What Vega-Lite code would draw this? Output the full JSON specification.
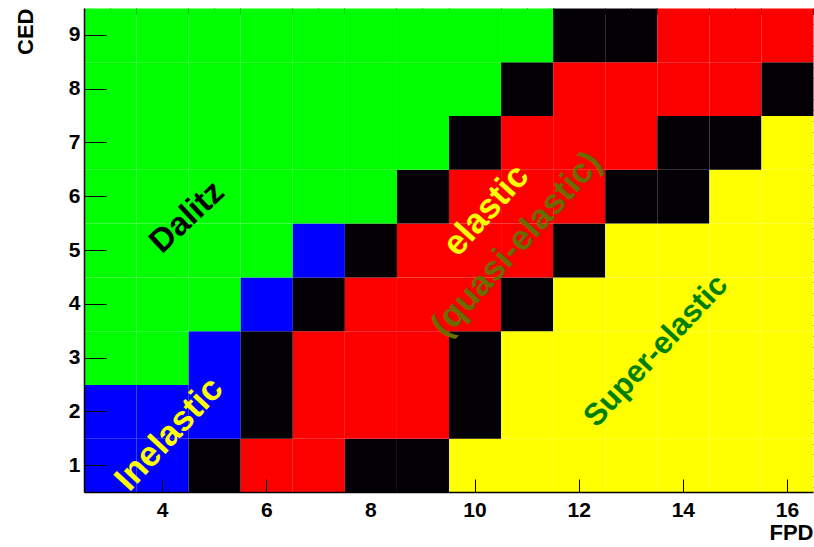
{
  "$schema": "https://vega.github.io/schema/vega-lite/v6.json",
  "width": 729,
  "height": 484,
  "autosize": {"type": "none"},
  "padding": {"left": 84, "top": 8, "right": 1, "bottom": 55},
  "background": "white",
  "config": {
    "view": {"stroke": null},
    "axis": {"grid": false, "domainColor": "black", "tickColor": "black", "labelColor": "black", "titleColor": "black", "labelFont": "Liberation Sans", "titleFont": "Liberation Sans", "labelFontWeight": "bold", "titleFontWeight": "bold"},
    "text": {"font": "Liberation Sans", "fontWeight": "bold", "align": "center", "baseline": "middle"}
  },
  "resolve": {"axis": {"x": "independent", "y": "independent"}, "scale": {"color": "independent"}},
  "layer": [
    {
      "data": {"values": [
        {"FPD":3,"CED":1,"region":"inelastic"},{"FPD":4,"CED":1,"region":"inelastic"},{"FPD":5,"CED":1,"region":"ambiguous"},{"FPD":6,"CED":1,"region":"elastic"},{"FPD":7,"CED":1,"region":"elastic"},{"FPD":8,"CED":1,"region":"ambiguous"},{"FPD":9,"CED":1,"region":"ambiguous"},{"FPD":10,"CED":1,"region":"super"},{"FPD":11,"CED":1,"region":"super"},{"FPD":12,"CED":1,"region":"super"},{"FPD":13,"CED":1,"region":"super"},{"FPD":14,"CED":1,"region":"super"},{"FPD":15,"CED":1,"region":"super"},{"FPD":16,"CED":1,"region":"super"},
        {"FPD":3,"CED":2,"region":"inelastic"},{"FPD":4,"CED":2,"region":"inelastic"},{"FPD":5,"CED":2,"region":"inelastic"},{"FPD":6,"CED":2,"region":"ambiguous"},{"FPD":7,"CED":2,"region":"elastic"},{"FPD":8,"CED":2,"region":"elastic"},{"FPD":9,"CED":2,"region":"elastic"},{"FPD":10,"CED":2,"region":"ambiguous"},{"FPD":11,"CED":2,"region":"super"},{"FPD":12,"CED":2,"region":"super"},{"FPD":13,"CED":2,"region":"super"},{"FPD":14,"CED":2,"region":"super"},{"FPD":15,"CED":2,"region":"super"},{"FPD":16,"CED":2,"region":"super"},
        {"FPD":3,"CED":3,"region":"dalitz"},{"FPD":4,"CED":3,"region":"dalitz"},{"FPD":5,"CED":3,"region":"inelastic"},{"FPD":6,"CED":3,"region":"ambiguous"},{"FPD":7,"CED":3,"region":"elastic"},{"FPD":8,"CED":3,"region":"elastic"},{"FPD":9,"CED":3,"region":"elastic"},{"FPD":10,"CED":3,"region":"ambiguous"},{"FPD":11,"CED":3,"region":"super"},{"FPD":12,"CED":3,"region":"super"},{"FPD":13,"CED":3,"region":"super"},{"FPD":14,"CED":3,"region":"super"},{"FPD":15,"CED":3,"region":"super"},{"FPD":16,"CED":3,"region":"super"},
        {"FPD":3,"CED":4,"region":"dalitz"},{"FPD":4,"CED":4,"region":"dalitz"},{"FPD":5,"CED":4,"region":"dalitz"},{"FPD":6,"CED":4,"region":"inelastic"},{"FPD":7,"CED":4,"region":"ambiguous"},{"FPD":8,"CED":4,"region":"elastic"},{"FPD":9,"CED":4,"region":"elastic"},{"FPD":10,"CED":4,"region":"elastic"},{"FPD":11,"CED":4,"region":"ambiguous"},{"FPD":12,"CED":4,"region":"super"},{"FPD":13,"CED":4,"region":"super"},{"FPD":14,"CED":4,"region":"super"},{"FPD":15,"CED":4,"region":"super"},{"FPD":16,"CED":4,"region":"super"},
        {"FPD":3,"CED":5,"region":"dalitz"},{"FPD":4,"CED":5,"region":"dalitz"},{"FPD":5,"CED":5,"region":"dalitz"},{"FPD":6,"CED":5,"region":"dalitz"},{"FPD":7,"CED":5,"region":"inelastic"},{"FPD":8,"CED":5,"region":"ambiguous"},{"FPD":9,"CED":5,"region":"elastic"},{"FPD":10,"CED":5,"region":"elastic"},{"FPD":11,"CED":5,"region":"elastic"},{"FPD":12,"CED":5,"region":"ambiguous"},{"FPD":13,"CED":5,"region":"super"},{"FPD":14,"CED":5,"region":"super"},{"FPD":15,"CED":5,"region":"super"},{"FPD":16,"CED":5,"region":"super"},
        {"FPD":3,"CED":6,"region":"dalitz"},{"FPD":4,"CED":6,"region":"dalitz"},{"FPD":5,"CED":6,"region":"dalitz"},{"FPD":6,"CED":6,"region":"dalitz"},{"FPD":7,"CED":6,"region":"dalitz"},{"FPD":8,"CED":6,"region":"dalitz"},{"FPD":9,"CED":6,"region":"ambiguous"},{"FPD":10,"CED":6,"region":"elastic"},{"FPD":11,"CED":6,"region":"elastic"},{"FPD":12,"CED":6,"region":"elastic"},{"FPD":13,"CED":6,"region":"ambiguous"},{"FPD":14,"CED":6,"region":"ambiguous"},{"FPD":15,"CED":6,"region":"super"},{"FPD":16,"CED":6,"region":"super"},
        {"FPD":3,"CED":7,"region":"dalitz"},{"FPD":4,"CED":7,"region":"dalitz"},{"FPD":5,"CED":7,"region":"dalitz"},{"FPD":6,"CED":7,"region":"dalitz"},{"FPD":7,"CED":7,"region":"dalitz"},{"FPD":8,"CED":7,"region":"dalitz"},{"FPD":9,"CED":7,"region":"dalitz"},{"FPD":10,"CED":7,"region":"ambiguous"},{"FPD":11,"CED":7,"region":"elastic"},{"FPD":12,"CED":7,"region":"elastic"},{"FPD":13,"CED":7,"region":"elastic"},{"FPD":14,"CED":7,"region":"ambiguous"},{"FPD":15,"CED":7,"region":"ambiguous"},{"FPD":16,"CED":7,"region":"super"},
        {"FPD":3,"CED":8,"region":"dalitz"},{"FPD":4,"CED":8,"region":"dalitz"},{"FPD":5,"CED":8,"region":"dalitz"},{"FPD":6,"CED":8,"region":"dalitz"},{"FPD":7,"CED":8,"region":"dalitz"},{"FPD":8,"CED":8,"region":"dalitz"},{"FPD":9,"CED":8,"region":"dalitz"},{"FPD":10,"CED":8,"region":"dalitz"},{"FPD":11,"CED":8,"region":"ambiguous"},{"FPD":12,"CED":8,"region":"elastic"},{"FPD":13,"CED":8,"region":"elastic"},{"FPD":14,"CED":8,"region":"elastic"},{"FPD":15,"CED":8,"region":"elastic"},{"FPD":16,"CED":8,"region":"ambiguous"},
        {"FPD":3,"CED":9,"region":"dalitz"},{"FPD":4,"CED":9,"region":"dalitz"},{"FPD":5,"CED":9,"region":"dalitz"},{"FPD":6,"CED":9,"region":"dalitz"},{"FPD":7,"CED":9,"region":"dalitz"},{"FPD":8,"CED":9,"region":"dalitz"},{"FPD":9,"CED":9,"region":"dalitz"},{"FPD":10,"CED":9,"region":"dalitz"},{"FPD":11,"CED":9,"region":"dalitz"},{"FPD":12,"CED":9,"region":"ambiguous"},{"FPD":13,"CED":9,"region":"ambiguous"},{"FPD":14,"CED":9,"region":"elastic"},{"FPD":15,"CED":9,"region":"elastic"},{"FPD":16,"CED":9,"region":"elastic"}
      ]},
      "mark": {"type": "rect"},
      "encoding": {
        "x": {"field": "FPD", "type": "quantitative", "bin": {"step": 1, "extent": [2.5, 16.5], "nice": false},
              "scale": {"domain": [2.5, 16.5], "nice": false, "zero": false},
              "axis": {"values": [4, 6, 8, 10, 12, 14, 16], "tickSize": -13, "labelPadding": 20, "labelFontSize": 21, "title": "FPD", "titleFontSize": 22, "titleAnchor": "end", "titlePadding": 2, "domainWidth": 1.5, "labelFlush": false}},
        "y": {"field": "CED", "type": "quantitative", "bin": {"step": 1, "extent": [0.5, 9.5], "nice": false},
              "scale": {"domain": [0.5, 9.5], "nice": false, "zero": false},
              "axis": {"values": [1, 2, 3, 4, 5, 6, 7, 8, 9], "tickSize": -22, "labelPadding": 26, "labelFontSize": 21, "title": "CED", "titleFontSize": 22, "titleAnchor": "end", "titlePadding": 31, "domainWidth": 1.5, "labelFlush": false}},
        "color": {"field": "region", "type": "nominal", "legend": null,
                  "scale": {"domain": ["dalitz", "inelastic", "elastic", "ambiguous", "super"], "range": ["#00ff00", "#0000ff", "#fc0000", "#020004", "#ffff00"]}}
      }
    },
    {
      "data": {"values": [{"label": "Dalitz", "FPD": 4.48, "CED": 5.61}]},
      "mark": {"type": "text", "angle": -43, "fontSize": 33, "color": "black"},
      "encoding": {
        "x": {"field": "FPD", "type": "quantitative",
              "axis": {"values": [3, 3.5, 4.5, 5, 5.5, 6.5, 7, 7.5, 8.5, 9, 9.5, 10.5, 11, 11.5, 12.5, 13, 13.5, 14.5, 15, 15.5, 16.5], "tickSize": -6.5, "labels": false, "domain": false, "title": null}},
        "y": {"field": "CED", "type": "quantitative",
              "axis": {"values": [0.6, 0.8, 1.2, 1.4, 1.6, 1.8, 2.2, 2.4, 2.6, 2.8, 3.2, 3.4, 3.6, 3.8, 4.2, 4.4, 4.6, 4.8, 5.2, 5.4, 5.6, 5.8, 6.2, 6.4, 6.6, 6.8, 7.2, 7.4, 7.6, 7.8, 8.2, 8.4, 8.6, 8.8, 9.2, 9.4], "tickSize": -11, "labels": false, "domain": false, "title": null}},
        "text": {"field": "label"}
      }
    },
    {
      "data": {"values": [{"label": "Inelastic", "FPD": 4.13, "CED": 1.58}]},
      "mark": {"type": "text", "angle": -47, "fontSize": 35, "color": "#ffff00"},
      "encoding": {
        "x": {"field": "FPD", "type": "quantitative", "axis": null},
        "y": {"field": "CED", "type": "quantitative", "axis": null},
        "text": {"field": "label"}
      }
    },
    {
      "data": {"values": [{"label": "elastic", "FPD": 10.22, "CED": 5.74}]},
      "mark": {"type": "text", "angle": -48, "fontSize": 35, "color": "#ffff00"},
      "encoding": {
        "x": {"field": "FPD", "type": "quantitative", "axis": null},
        "y": {"field": "CED", "type": "quantitative", "axis": null},
        "text": {"field": "label"}
      }
    },
    {
      "data": {"values": [{"label": "(quasi-elastic)", "FPD": 10.8, "CED": 5.11}]},
      "mark": {"type": "text", "angle": -48, "fontSize": 35, "color": "#6b6b00"},
      "encoding": {
        "x": {"field": "FPD", "type": "quantitative", "axis": null},
        "y": {"field": "CED", "type": "quantitative", "axis": null},
        "text": {"field": "label"}
      }
    },
    {
      "data": {"values": [{"label": "Super-elastic", "FPD": 13.49, "CED": 3.12}]},
      "mark": {"type": "text", "angle": -47, "fontSize": 31, "color": "#008000"},
      "encoding": {
        "x": {"field": "FPD", "type": "quantitative", "axis": null},
        "y": {"field": "CED", "type": "quantitative", "axis": null},
        "text": {"field": "label"}
      }
    }
  ]
}
